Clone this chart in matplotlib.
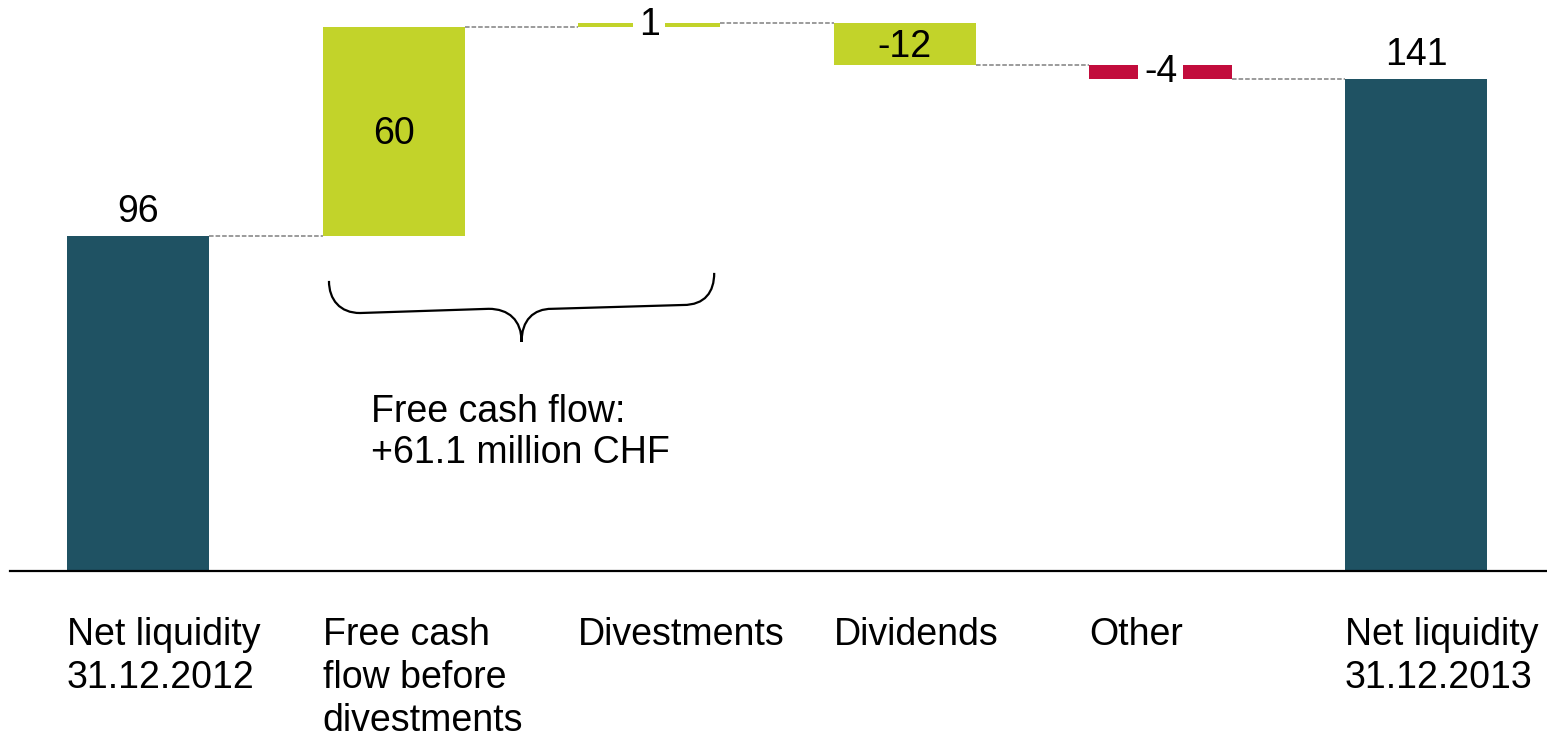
import matplotlib
matplotlib.use("Agg")
import matplotlib.pyplot as plt
from matplotlib.path import Path
from matplotlib.patches import PathPatch
import numpy as np

plt.rcParams['font.family'] = ['Liberation Sans', 'DejaVu Sans']

# data
categories = ["Net liquidity\n31.12.2012", "Free cash\nflow before\ndivestments",
              "Divestments", "Dividends", "Other", "Net liquidity\n31.12.2013"]
values = [96, 60, 1, -12, -4, 141]
kinds = ["total", "delta", "delta", "delta", "delta", "total"]
labels = ["96", "60", "1", "-12", "-4", "141"]
note = "Free cash flow:\n+61.1 million CHF"

teal = "#1F5263"
lime = "#C2D32A"
red = "#C20C3C"
grey = "#808080"

fig = plt.figure(figsize=(15.47, 7.37), dpi=100)
ax = fig.add_axes([0, 0, 1, 1])
ax.set_xlim(-0.54, 5.512)
ax.set_ylim(-47.6, 163.6)
ax.axis('off')

w = 0.556
x = np.arange(len(values))
bottoms = []
tops = []
run = 0
for i, (v, k) in enumerate(zip(values, kinds)):
    if k == "total":
        b, t = 0, v
        run = v
    else:
        b, t = run, run + v
        run = run + v
    bottoms.append(min(b, t))
    tops.append(max(b, t))

colors = []
for v, k in zip(values, kinds):
    if k == "total":
        colors.append(teal)
    elif v >= 0 or abs(v) > 10:
        colors.append(lime)
    else:
        colors.append(red)

ax.bar(x, np.array(tops) - np.array(bottoms), bottom=bottoms, width=w,
       color=colors, linewidth=0, zorder=2)

# connectors
level = 0
for i in range(len(values) - 1):
    if kinds[i] == "total":
        level = values[i]
    else:
        level = level + values[i]
    ax.plot([x[i] + w / 2, x[i + 1] - w / 2], [level, level], color=grey,
            lw=1.1, ls=(0, (3, 1.3)), zorder=1)

# value labels
fs = 27
for i, (v, k) in enumerate(zip(values, kinds)):
    mid = (tops[i] + bottoms[i]) / 2
    if k == "total":
        ax.text(x[i], tops[i] + 4, labels[i], ha='center', va='baseline',
                fontsize=fs, zorder=3)
    elif abs(v) >= 10:
        ax.text(x[i], mid - 0.8, labels[i], ha='center', va='center',
                fontsize=fs, zorder=3)
    else:
        ax.text(x[i], mid, labels[i], ha='center', va='center', fontsize=fs,
                zorder=3, bbox=dict(boxstyle='square,pad=0.15', fc='white', ec='none'))

# baseline
ax.axhline(0, xmin=0.0065, xmax=1, color='black', lw=1.6, zorder=4)

# category labels
for i, c in enumerate(categories):
    ax.text(x[i] - w / 2, -13.3, c, ha='left', va='top', fontsize=fs,
            linespacing=1.24)

# brace under bars 1-2
x0, x1 = x[1] - 0.253, x[2] + 0.254
xm = (x0 + x1) / 2
verts = [(x0, 83.1), (x0, 77.7), (x0 + 0.043, 73.9), (x0 + 0.122, 73.9),
         (xm - 0.129, 75.1),
         (xm - 0.051, 75.1), (xm, 71.9), (xm, 65.6),
         (xm, 71.9), (xm + 0.047, 75.1), (xm + 0.118, 75.1),
         (x1 - 0.122, 76.2),
         (x1 - 0.036, 76.2), (x1, 79.9), (x1, 85.4)]
codes = [Path.MOVETO, Path.CURVE4, Path.CURVE4, Path.CURVE4,
         Path.LINETO,
         Path.CURVE4, Path.CURVE4, Path.CURVE4,
         Path.CURVE4, Path.CURVE4, Path.CURVE4,
         Path.LINETO,
         Path.CURVE4, Path.CURVE4, Path.CURVE4]
ax.add_patch(PathPatch(Path(verts, codes), fc='none', ec='black', lw=1.6))

ax.text(x[1] - 0.09, 50.8, note, ha='left', va='top', fontsize=fs, linespacing=1.2)

fig.savefig("out.png", dpi=100)
